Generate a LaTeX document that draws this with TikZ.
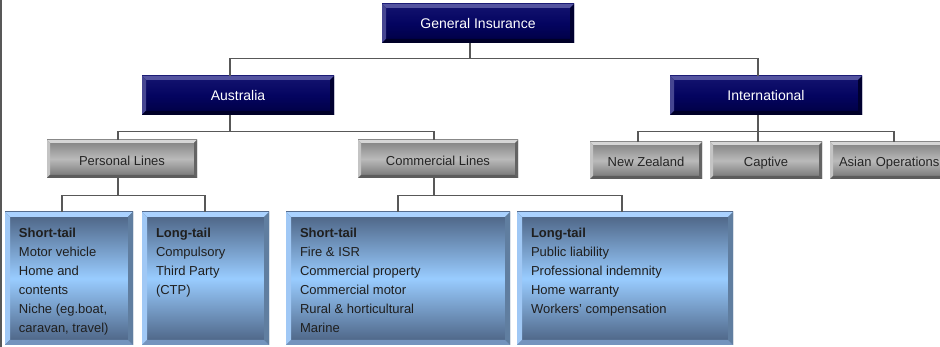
\documentclass[tikz,border=0pt]{standalone}
\usepackage{fontspec}
\setmainfont{Liberation Sans}
\usetikzlibrary{calc}

\definecolor{linegray}{RGB}{88,88,88}
% navy headline boxes
\definecolor{navyTop}{RGB}{20,20,112}
\definecolor{navyMid}{RGB}{4,4,96}
\definecolor{navyBot}{RGB}{0,0,66}
\definecolor{navyBevT}{RGB}{84,84,160}
\definecolor{navyBevL}{RGB}{70,70,145}
\definecolor{navyBevR}{RGB}{0,0,48}
\definecolor{navyBevB}{RGB}{0,0,40}
% grey division boxes
\definecolor{greyTop}{RGB}{128,128,128}
\definecolor{greyMid}{RGB}{186,186,186}
\definecolor{greyBot}{RGB}{112,112,112}
\definecolor{greyBevT}{RGB}{214,214,214}
\definecolor{greyBevL}{RGB}{196,196,196}
\definecolor{greyBevR}{RGB}{100,100,100}
\definecolor{greyBevB}{RGB}{92,92,92}
\definecolor{greyText}{RGB}{36,36,36}
% blue product boxes
\definecolor{blueTop}{RGB}{74,96,128}
\definecolor{blueMid}{RGB}{153,204,255}
\definecolor{blueBot}{RGB}{74,96,128}
\definecolor{blueBevT}{RGB}{170,210,255}
\definecolor{blueBevL}{RGB}{160,200,245}
\definecolor{blueBevR}{RGB}{96,126,160}
\definecolor{blueBevB}{RGB}{116,148,190}

% four bevel faces drawn over a node's fill: #1 width, #2-#5 top, left, right, bottom colours
\newcommand\bevelfaces[5]{%
  \coordinate (bvA) at (path picture bounding box.north west);
  \coordinate (bvB) at (path picture bounding box.north east);
  \coordinate (bvC) at (path picture bounding box.south east);
  \coordinate (bvD) at (path picture bounding box.south west);
  \fill[#2] (bvA) -- (bvB) -- ([shift={(-#1pt,-#1pt)}]bvB) -- ([shift={(#1pt,-#1pt)}]bvA) -- cycle;
  \fill[#3] (bvA) -- ([shift={(#1pt,-#1pt)}]bvA) -- ([shift={(#1pt,#1pt)}]bvD) -- (bvD) -- cycle;
  \fill[#4] (bvB) -- (bvC) -- ([shift={(-#1pt,#1pt)}]bvC) -- ([shift={(-#1pt,-#1pt)}]bvB) -- cycle;
  \fill[#5] (bvD) -- (bvC) -- ([shift={(-#1pt,#1pt)}]bvC) -- ([shift={(#1pt,#1pt)}]bvD) -- cycle;
}

\tikzset{
  conn/.style={draw=linegray, line width=1.2pt},
  headbox/.style={rectangle, inner sep=0pt, minimum width=192pt, minimum height=39pt,
    text height=11pt, text depth=0pt,
    top color=navyTop, bottom color=navyBot, middle color=navyMid,
    text=white, font=\fontsize{14}{16}\selectfont,
    path picture={\bevelfaces{4}{navyBevT}{navyBevL}{navyBevR}{navyBevB}}},
  divbox/.style={rectangle, inner sep=0pt, minimum height=38pt,
    text height=12.5pt, text depth=0pt,
    top color=greyTop, bottom color=greyBot, middle color=greyMid,
    text=greyText, font=\fontsize{13}{15}\selectfont,
    path picture={\bevelfaces{3}{greyBevT}{greyBevL}{greyBevR}{greyBevB}}},
  prodbox/.style={rectangle, inner xsep=14pt, inner ysep=10pt, minimum height=133pt,
    top color=blueTop, bottom color=blueBot, middle color=blueMid,
    text=black!88, font=\fontsize{13}{19}\selectfont,
    path picture={\bevelfaces{5}{blueBevT}{blueBevL}{blueBevR}{blueBevB}}},
}

% product list: #1 width of the text column, #2 lines
\newcommand\prodlist[2]{\parbox[c][113pt][t]{#1}{\raggedright\rule{0pt}{16pt}#2}}

\begin{document}
\begin{tikzpicture}[x=1pt, y=1pt]
\path[use as bounding box, clip] (0,0) rectangle (940,-347);
\fill[white] (0,0) rectangle (940,-347);

% left frame rule
\draw[conn] (1,0) -- (1,-347);

% top level
\node[headbox] (gi)   at (478,-23.5) {General Insurance};
\node[headbox] (aus)  at (238,-95.5) {Australia};
\node[headbox] (intl) at (766,-95.5) {International};

% divisions
\node[divbox, minimum width=150pt] (pl)  at (122,-159) {Personal Lines};
\node[divbox, minimum width=160pt] (cl)  at (438,-159) {Commercial Lines};
\node[divbox, minimum width=112pt, minimum height=37pt] (nz)  at (646,-160.5) {New Zealand};
\node[divbox, minimum width=112pt, minimum height=37pt] (cap) at (766,-160.5) {Captive};
\node[divbox, minimum width=144pt, minimum height=37pt, inner xsep=9pt,
      text width=126pt, align=left] (asia) at (902,-160.5) {Asian Operations};

% product groups
\node[prodbox] (ps) at (69,-278.5)
  {\prodlist{100pt}{\textbf{Short-tail}\\Motor vehicle\\Home and\\contents\\Niche (eg.boat,\\caravan, travel)}};
\node[prodbox] (plt) at (205.5,-278.5)
  {\prodlist{99pt}{\textbf{Long-tail}\\Compulsory\\Third Party\\(CTP)}};
\node[prodbox] (cs) at (398,-278.5)
  {\prodlist{196pt}{\textbf{Short-tail}\\Fire \& ISR\\Commercial property\\Commercial motor\\Rural \& horticultural\\Marine}};
\node[prodbox] (clt) at (625,-278.5)
  {\prodlist{188pt}{\textbf{Long-tail}\\Public liability\\Professional indemnity\\Home warranty\\Workers’ compensation}};

% connectors
\draw[conn] ([xshift=-8pt]gi.south) -- ++(0,-16);
\draw[conn] ([xshift=-8pt]aus.north) -- ++(0,17) -| ([xshift=-8pt]intl.north);

\draw[conn] ([xshift=-8pt]aus.south) -- ++(0,-17);
\draw[conn] ([xshift=-4pt]pl.north) -- ++(0,8) -| ([xshift=-4pt]cl.north);

\draw[conn] ([xshift=-8pt]intl.south) -- ++(0,-17);
\draw[conn] ([xshift=-8pt]nz.north) -- ++(0,10) -| ([xshift=-8pt]asia.north);
\draw[conn] ([xshift=-8pt]cap.north) -- ++(0,10);

\draw[conn] ([xshift=-4pt]pl.south) -- ++(0,-18);
\draw[conn] ([xshift=-7pt]ps.north) -- ++(0,16) -| ([xshift=-0.5pt]plt.north);

\draw[conn] ([xshift=-4pt]cl.south) -- ++(0,-18);
\draw[conn] (cs.north) -- ++(0,16) -| ([xshift=-3pt]clt.north);
\end{tikzpicture}
\end{document}
